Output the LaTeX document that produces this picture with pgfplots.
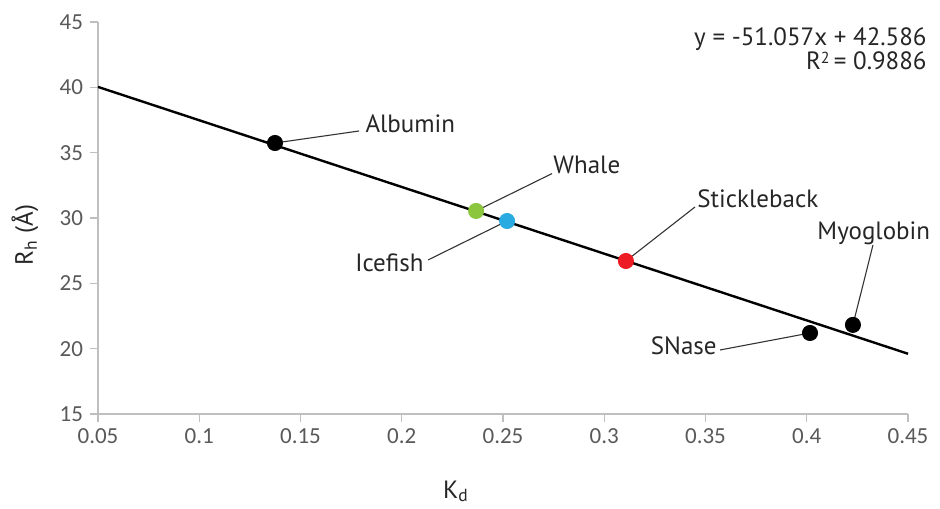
\documentclass[border=0pt]{standalone}
\usepackage{pgfplots}
\pgfplotsset{compat=1.18}
\usepackage{fontspec}
\setmainfont{PT Sans}
\newfontfamily\tickfont{Carlito}

\definecolor{axisgray}{HTML}{BFBFBF}
\definecolor{ticktext}{HTML}{595959}
\definecolor{leadgray}{HTML}{333333}
\definecolor{whalegreen}{HTML}{8CC63F}
\definecolor{iceblue}{HTML}{29ABE2}
\definecolor{stickred}{HTML}{ED1C24}

\begin{document}
\begin{tikzpicture}
\path[use as bounding box] (-49pt,-47pt) rectangle (421pt,207pt);
\begin{axis}[
  at={(0,0)}, anchor=south west,
  scale only axis, width=405pt, height=196pt,
  xmin=0.05, xmax=0.45, ymin=15, ymax=45,
  xtick={0.05,0.1,0.15,0.2,0.25,0.3,0.35,0.4,0.45},
  xticklabels={0.05,0.1,0.15,0.2,0.25,0.3,0.35,0.4,0.45},
  ytick={15,20,25,30,35,40,45},
  axis x line*=bottom, axis y line*=left,
  axis line style={-, axisgray, line width=0.7pt},
  tick style={axisgray, line width=0.7pt},
  tick align=outside, major tick length=4pt,
  tick label style={font=\tickfont\fontsize{11.5}{13}\selectfont, text=ticktext},
  /pgf/number format/assume math mode=true,
  clip=false,
]
% least-squares fit  y = -51.057x + 42.586
\addplot[black, line width=1.2pt] coordinates {(0.05,40.0332) (0.45,19.6104)};

% leader lines from each protein to its name
\addplot[leadgray, line width=0.55pt] coordinates {(0.1374,35.74) (0.1789,36.66)};
\addplot[leadgray, line width=0.55pt] coordinates {(0.2367,30.54) (0.2742,33.40)};
\addplot[leadgray, line width=0.55pt] coordinates {(0.2520,29.77) (0.2130,26.79)};
\addplot[leadgray, line width=0.55pt] coordinates {(0.3107,26.71) (0.3448,30.84)};
\addplot[leadgray, line width=0.55pt] coordinates {(0.4016,21.20) (0.3572,19.90)};
\addplot[leadgray, line width=0.55pt] coordinates {(0.4228,21.82) (0.4327,27.93)};

% proteins
\addplot[only marks, mark=*, mark size=3.8pt, black] coordinates {(0.1374,35.74) (0.4016,21.20) (0.4228,21.82)};
\addplot[only marks, mark=*, mark size=3.8pt, whalegreen, mark options={draw=whalegreen, fill=whalegreen}] coordinates {(0.2367,30.54)};
\addplot[only marks, mark=*, mark size=3.8pt, iceblue, mark options={draw=iceblue, fill=iceblue}] coordinates {(0.2520,29.77)};
\addplot[only marks, mark=*, mark size=3.8pt, stickred, mark options={draw=stickred, fill=stickred}] coordinates {(0.3107,26.71)};

\begin{scope}[every node/.style={inner sep=0pt, font=\fontsize{12.5}{14}\selectfont, text=black!85}]
\node[anchor=base west] at (axis cs:0.1819,36.58) {Albumin};
\node[anchor=base west] at (axis cs:0.2747,33.44) {Whale};
\node[anchor=base east] at (axis cs:0.2110,25.94) {Icefish};
\node[anchor=base west] at (axis cs:0.3458,30.84) {Stickleback};
\node[anchor=base west] at (axis cs:0.4051,28.32) {Myoglobin};
\node[anchor=base east] at (axis cs:0.3557,19.52) {SNase};
\node[anchor=base east] at (rel axis cs:1.0235,0.9413) {y = -51.057x + 42.586};
\node[anchor=base east] at (rel axis cs:1.0235,0.8776) {R\raisebox{0.25em}{\fontsize{8}{8}\selectfont 2}\,= 0.9886};
\end{scope}
\end{axis}
% axis titles
\node[inner sep=0pt, anchor=base, rotate=90, font=\fontsize{12.5}{14}\selectfont, text=black!85] at (-32.5pt,89.5pt) {R\textsubscript{h} (Å)};
\node[inner sep=0pt, anchor=base, font=\fontsize{12.5}{14}\selectfont, text=black!85] at (179pt,-42pt) {K\textsubscript{d}};
\end{tikzpicture}
\end{document}
